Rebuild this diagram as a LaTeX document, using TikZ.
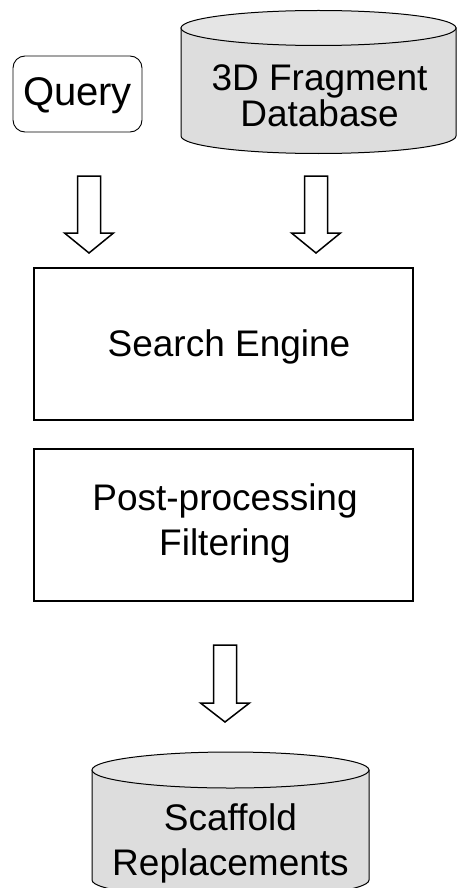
\documentclass[tikz,border=0pt]{standalone}
\usepackage{fontspec}
\setmainfont{Liberation Sans}
\definecolor{dbbody}{RGB}{221,221,221}
\definecolor{dbtop}{RGB}{229,229,229}
\begin{document}
\begin{tikzpicture}[x=1pt,y=-1pt,
  lbl/.style={font=\fontsize{37}{45}\selectfont, align=center, inner sep=0pt},
  procbox/.style={draw, line width=1.7pt},
  querybox/.style={draw, line width=0.9pt, rounded corners=12pt},
  blockarrow/.style={draw, fill=white, line width=1.5pt, line join=miter},
  dbline/.style={draw, line width=1pt}]
\useasboundingbox (0,0) rectangle (457,888);

% hollow down-pointing arrow: #1 centre x, #2 top, #3 head base, #4 tip
\newcommand\hollowarrow[4]{%
  \draw[blockarrow] (#1-11.5,#2) -- (#1+11.5,#2) -- (#1+11.5,#3) -- (#1+24.5,#3)
    -- (#1,#4) -- (#1-24.5,#3) -- (#1-11.5,#3) -- cycle;}

% database cylinder: #1 centre x, #2 top ellipse y, #3 bottom ellipse y, #4 x radius, #5 y radius
\newcommand\dbcylinder[5]{%
  \path[dbline, fill=dbbody] (#1-#4,#2) -- (#1-#4,#3)
    arc[start angle=180, end angle=360, x radius=#4pt, y radius=#5pt]
    -- (#1+#4,#2) -- cycle;
  \path[dbline, fill=dbtop] (#1,#2) ellipse [x radius=#4pt, y radius=#5pt];}

% query input
\draw[querybox] (13,56) rectangle (142,132);
\node[lbl, font=\fontsize{40}{46}\selectfont] (query) at (77.5,96) {Query};

% fragment database
\dbcylinder{318.5}{28}{136}{137.5}{17.5}
\node[lbl, font=\fontsize{37}{36}\selectfont] (fragdb) at (319.5,96) {3D Fragment\\Database};

% inputs flowing into the search engine
\hollowarrow{89}{176}{233}{253}
\hollowarrow{316}{176}{233}{253}

% processing stages
\draw[procbox] (34,268) rectangle (413,420);
\node[lbl] (search) at (229,347) {Search Engine};

\draw[procbox] (34,449) rectangle (413,601);
\node[lbl] (filter) at (225,523) {Post-processing\\Filtering};

% output
\hollowarrow{225}{645}{703}{722}

\dbcylinder{230.5}{770}{880}{138.5}{18}
\node[lbl] (result) at (230.5,843) {Scaffold\\Replacements};
\end{tikzpicture}
\end{document}
